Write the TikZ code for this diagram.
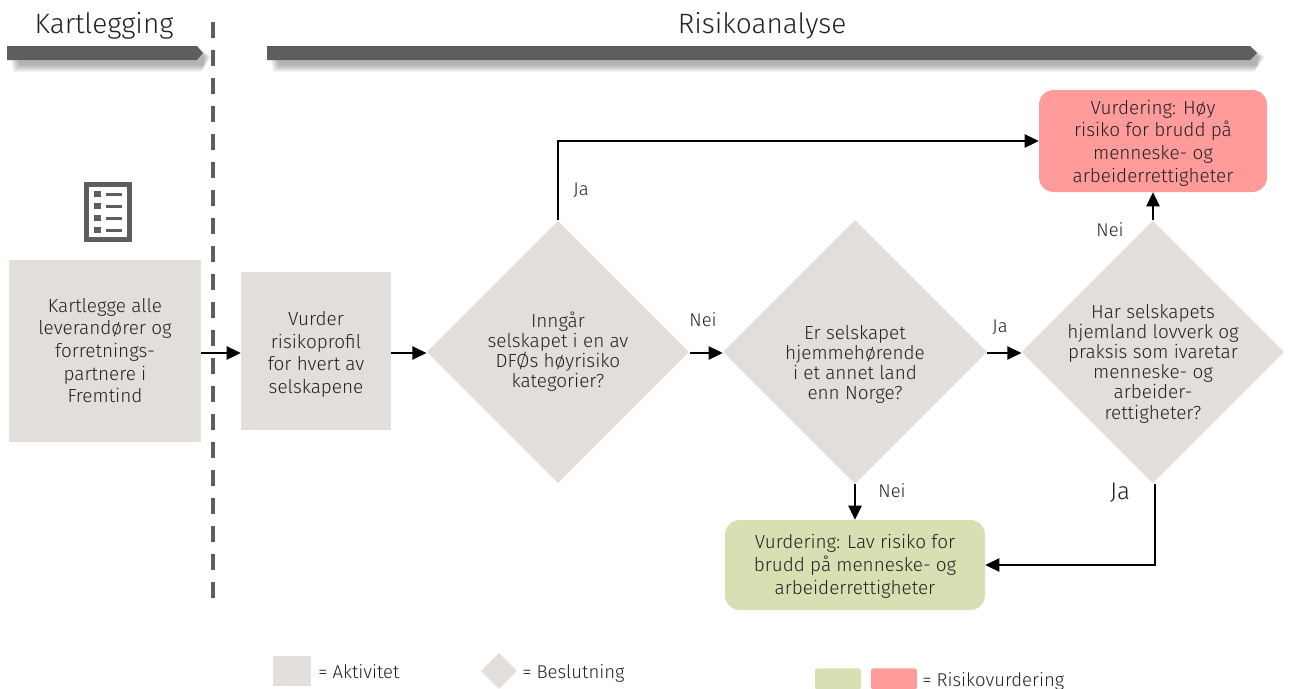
\documentclass[tikz,border=0pt]{standalone}
\usepackage{fontspec}
\setmainfont{Fira Sans}[UprightFont=* Light]
\usetikzlibrary{shapes.geometric,arrows.meta}
\definecolor{boxgrey}{HTML}{E2DFDA}
\definecolor{bandgrey}{HTML}{5F5E5C}
\definecolor{redbox}{HTML}{FF9B9B}
\definecolor{greenbox}{HTML}{D8DFB3}
\definecolor{inkc}{HTML}{222222}
\newcommand\lowered[2]{\raisebox{-#1}[\height][\depth]{\begin{tabular}{@{}c@{}}#2\end{tabular}}}
\tikzset{
  activity/.style={fill=boxgrey,draw=none,inner sep=0pt,align=center,text=inkc,font=\fontsize{14.2}{17}\selectfont},
  decision/.style={diamond,aspect=1,fill=boxgrey,draw=none,inner sep=-30pt,align=center,text=inkc,font=\fontsize{14.2}{15}\selectfont},
  result/.style={fill=#1,draw=none,rounded corners=11pt,inner sep=0pt,align=center,text=inkc,font=\fontsize{14.2}{17}\selectfont},
  flow/.style={draw=black,line width=0.9pt,-{Triangle[length=10.5pt,width=10pt]}},
  lbl/.style={text=inkc,inner sep=0pt,font=\fontsize{13.8}{16}\selectfont},
  legendtxt/.style={text=inkc,inner sep=0pt,anchor=west,font=\fontsize{13.9}{16}\selectfont},
  heading/.style={text=inkc,inner sep=0pt,font=\fontsize{21}{24}\selectfont},
  band/.style={fill=bandgrey,draw=none},
}
\begin{document}
\begin{tikzpicture}[x=0.75pt,y=-0.75pt]
\useasboundingbox (0,0) rectangle (1290,689);
% band shadows
\foreach \d in {0,1,...,7}{
  \fill[black,opacity=0.045] (9+\d,49+\d) -- (201+\d/2,49+\d) -- (211-\d,57) -- (201+\d/2,72-\d) -- (13+\d,72-\d) -- cycle;
  \fill[black,opacity=0.045] (269+\d,49+\d) -- (1254+\d/2,49+\d) -- (1265-\d,57) -- (1254+\d/2,72-\d) -- (273+\d,72-\d) -- cycle;
}
\fill[band] (7,46) -- (197,46) -- (203,53) -- (197,60) -- (7,60) -- cycle;
\fill[band] (267,46) -- (1250,46) -- (1257,53) -- (1250,60) -- (267,60) -- cycle;
\node[heading] (hk) at (104,26) {Kartlegging};
\node[heading] (hr) at (762,26) {Risikoanalyse};
% dashed divider
\coordinate (dtop) at (213,22);
\coordinate (dbot) at (213,600);
\draw[bandgrey,line width=3pt,dash pattern=on 12pt off 9pt] (dtop) -- (dbot);
% icon
\draw[bandgrey,line width=3.4pt] (86.5,184.5) rectangle (129.5,239.5);
\foreach \y in {194,206,218,230}{
  \fill[bandgrey] (94,\y-3) rectangle (101,\y+3);
  \fill[bandgrey] (106,\y-1.5) rectangle (122,\y+1.5);
}
% boxes
\node[activity,minimum width=144pt,minimum height=136.5pt] (kart) at (105,351) {\lowered{1.5pt}{Kartlegge alle\\leverandører og\\forretnings-\\partnere i\\Fremtind}};
\node[activity,minimum width=112.5pt,minimum height=118.5pt] (vurder) at (316,351) {\lowered{3pt}{Vurder\\risikoprofil\\for hvert av\\selskapene}};
\node[decision,minimum width=197pt,minimum height=197pt] (d1) at (558,352) {Inngår\\selskapet i en av\\DFØs høyrisiko\\kategorier?};
\node[decision,minimum width=198pt,minimum height=198pt] (d2) at (855,352) {\lowered{10pt}{Er selskapet\\hjemmehørende\\i et annet land\\enn Norge?}};
\node[decision,minimum width=197pt,minimum height=197pt] (d3) at (1153,352) {\lowered{9.5pt}{Har selskapets\\hjemland lovverk og\\praksis som ivaretar\\menneske- og\\arbeider-\\rettigheter?}};
\node[result=redbox,minimum width=171pt,minimum height=76.5pt] (red) at (1153,141) {\lowered{2pt}{Vurdering: Høy\\risiko for brudd på\\menneske- og\\arbeiderrettigheter}};
\node[result=greenbox,minimum width=195pt,minimum height=67.5pt] (green) at (855,565) {\lowered{1.5pt}{Vurdering: Lav risiko for\\brudd på menneske- og\\arbeiderrettigheter}};
% connectors
\draw[flow] (kart.east |- 0,353) -- (vurder.west |- 0,353);
\draw[flow] (vurder.east |- 0,353) -- (d1.west |- 0,353);
\draw[flow] (d1.east |- 0,353) -- (d2.west |- 0,353);
\draw[flow] (d2.east |- 0,353) -- (d3.west |- 0,353);
\draw[flow] (d1.north) |- (red.west);
\draw[flow] (d3.north) -- (red.south);
\draw[flow] (d2.south) -- (green.north);
\draw[flow] ([xshift=1.5pt]d3.south) |- (green.east);
% labels
\node[lbl] (ja1) at (581,190) {Ja};
\node[lbl] (nei1) at (703,320) {Nei};
\node[lbl] (ja2) at (1000,327) {Ja};
\node[lbl] (nei2) at (1110,230) {Nei};
\node[lbl] (nei3) at (892,491) {Nei};
\node[lbl,font=\fontsize{18}{20}\selectfont] (ja3) at (1120,493) {Ja};
% legend
\node[fill=boxgrey,minimum width=28.5pt,minimum height=22.5pt,inner sep=0pt] (lga) at (292,671) {};
\node[legendtxt] (lta) at (318,672) {= Aktivitet};
\node[diamond,aspect=1,fill=boxgrey,minimum width=27pt,minimum height=27pt,inner sep=0pt] (lgb) at (499,671) {};
\node[legendtxt] (ltb) at (522,673) {= Beslutning};
\node[fill=greenbox,rounded corners=2pt,minimum width=34.5pt,minimum height=16pt,inner sep=0pt] (lgc) at (838,679) {};
\node[fill=redbox,rounded corners=2pt,minimum width=34.5pt,minimum height=16pt,inner sep=0pt] (lgd) at (894,679) {};
\node[legendtxt] (ltc) at (922,681) {= Risikovurdering};
\end{tikzpicture}
\end{document}
